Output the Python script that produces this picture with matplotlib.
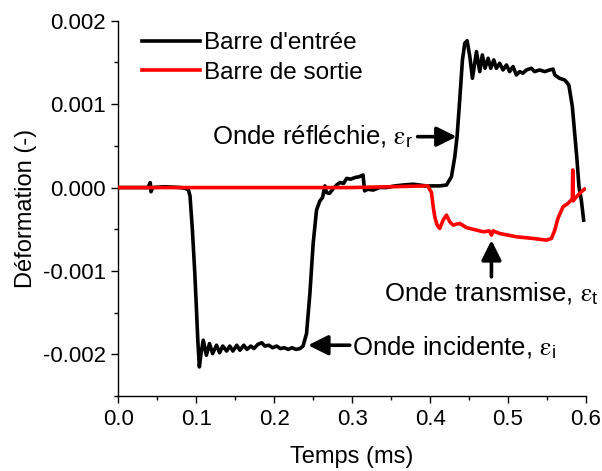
"""Split Hopkinson bar signals: input and output bar strain vs time."""

import matplotlib
matplotlib.use("Agg")
import matplotlib.pyplot as plt

plt.rcParams["font.family"] = ["Liberation Sans", "DejaVu Sans"]
plt.rcParams["mathtext.fontset"] = "stix"

# Barre d'entrée (black) - time in ms, strain
entree_t = [0.000, 0.038, 0.041, 0.042, 0.044, 0.060, 0.080, 0.086, 0.090, 0.092,
            0.095, 0.098, 0.100, 0.102, 0.104, 0.106, 0.109, 0.113, 0.117, 0.121,
            0.126, 0.130, 0.134, 0.139, 0.143, 0.147, 0.152, 0.156, 0.161, 0.165,
            0.170, 0.174, 0.179, 0.184, 0.188, 0.193, 0.198, 0.203, 0.208, 0.213,
            0.218, 0.223, 0.228, 0.233, 0.237, 0.2415, 0.2458, 0.250, 0.2543, 0.2586,
            0.262, 0.265, 0.267, 0.271, 0.275, 0.280, 0.2845, 0.289, 0.293, 0.298,
            0.3035, 0.309, 0.314, 0.316, 0.320, 0.327, 0.335, 0.344, 0.355, 0.365,
            0.378, 0.395, 0.412, 0.421, 0.4274, 0.4317, 0.4346, 0.438, 0.4415, 0.4445,
            0.4475, 0.451, 0.4543, 0.4595, 0.4637, 0.467, 0.4705, 0.4744, 0.4778, 0.4817,
            0.485, 0.4893, 0.4935, 0.498, 0.502, 0.5064, 0.5107, 0.515, 0.519, 0.5236,
            0.530, 0.534, 0.5406, 0.547, 0.5535, 0.5577, 0.560, 0.566, 0.5727, 0.578,
            0.5825, 0.5855, 0.5885, 0.591, 0.594, 0.597]
entree_eps = [0.0, 0.0, 0.00006, -0.00005, 0.0, 0.00001, 0.0, -0.00001, -0.00003, -0.0001,
              -0.0005, -0.0010, -0.0014, -0.00183, -0.00215, -0.0020, -0.00183, -0.00201, -0.00187, -0.00199,
              -0.00189, -0.00198, -0.00190, -0.00196, -0.00190, -0.00196, -0.00189, -0.00195, -0.00189, -0.00194,
              -0.00190, -0.00193, -0.00188, -0.00186, -0.00190, -0.00189, -0.00192, -0.00190, -0.00193, -0.00192,
              -0.00194, -0.00192, -0.00194, -0.00193, -0.00190, -0.00175, -0.00127, -0.00067, -0.00027, -0.00016,
              -0.00012, 0.00002, -0.00006, -0.00007, -0.00002, 0.00003, 0.00006, 0.00005, 0.00011, 0.00010,
              0.00012, 0.00013, 0.00015, -0.00004, -0.00002, -0.00003, 0.0, 0.0, 0.00002, 0.00003,
              0.00004, 0.00002, 0.00002, 0.00003, 0.00013, 0.00037, 0.00061, 0.00105, 0.00153, 0.00173,
              0.00176, 0.00157, 0.00131, 0.00163, 0.00139, 0.00159, 0.00143, 0.00155, 0.00143, 0.00153,
              0.00143, 0.00149, 0.00141, 0.00147, 0.00139, 0.00145, 0.00135, 0.00139, 0.00137, 0.00141,
              0.00143, 0.00139, 0.00141, 0.00139, 0.00141, 0.00142, 0.00135, 0.00131, 0.00129, 0.00123,
              0.00097, 0.00065, 0.00033, 0.00001, -0.00015, -0.00039]

# Barre de sortie (red)
sortie_t = [0.000, 0.100, 0.200, 0.300, 0.397, 0.4018, 0.404, 0.406, 0.409, 0.4124,
            0.4167, 0.421, 0.4253, 0.4295, 0.438, 0.4467, 0.4553, 0.468, 0.476, 0.4787,
            0.481, 0.489, 0.5107, 0.532, 0.5493, 0.5556, 0.560, 0.564, 0.5706, 0.5769,
            0.581, 0.5825, 0.583, 0.5835, 0.5878, 0.594, 0.598]
sortie_eps = [0.0, 0.0, 0.0, 0.0, 0.00002, -0.00006, -0.00023, -0.00035, -0.00045, -0.00049,
              -0.00039, -0.00033, -0.00041, -0.00045, -0.00043, -0.00048, -0.00050, -0.00053, -0.00052, -0.00057,
              -0.00052, -0.00055, -0.00059, -0.00061, -0.00063, -0.00061, -0.00051, -0.00037, -0.00023, -0.00019,
              -0.00015, -0.00014, 0.00021, -0.00016, -0.00011, -0.00005, -0.00002]

fig = plt.figure(figsize=(6.02, 4.71), dpi=100)
ax = fig.add_axes([0.1965, 0.159, 0.7769, 0.797])

ax.plot(entree_t, entree_eps, color="black", linewidth=2.6, label="Barre d'entrée", zorder=2)
ax.plot(sortie_t, sortie_eps, color="#ff0000", linewidth=2.6, label="Barre de sortie", zorder=3)

ax.set_xlim(0.0, 0.6)
ax.set_ylim(-0.0025, 0.002)
ax.set_xticks([0.0, 0.1, 0.2, 0.3, 0.4, 0.5, 0.6])
ax.set_xticks([0.05, 0.15, 0.25, 0.35, 0.45, 0.55], minor=True)
ax.set_yticks([-0.002, -0.001, 0.0, 0.001, 0.002])
ax.set_yticks([-0.0025, -0.0015, -0.0005, 0.0005, 0.0015], minor=True)
ax.set_xticklabels(["0.0", "0.1", "0.2", "0.3", "0.4", "0.5", "0.6"])
ax.set_yticklabels(["-0.002", "-0.001", "0.000", "0.001", "0.002"])
ax.tick_params(which="major", direction="out", length=5, width=1, labelsize=16, pad=4)
ax.tick_params(which="minor", direction="out", length=3, width=1)

for side in ("top", "right"):
    ax.spines[side].set_visible(False)
for side in ("left", "bottom"):
    ax.spines[side].set_linewidth(1.0)

ax.set_xlabel("Temps (ms)", fontsize=17, labelpad=12)
ax.set_ylabel("Déformation (-)", fontsize=17, labelpad=4)

ax.legend(loc="upper left", bbox_to_anchor=(0.03, 0.995), frameon=False, fontsize=17.5,
          handlelength=2.4, handletextpad=0.15, labelspacing=0.3, borderaxespad=0.0)

arrow = dict(arrowstyle="-|>,head_length=0.6,head_width=0.3", color="black",
             linewidth=2.6, mutation_scale=20, shrinkA=0, shrinkB=0)

# Onde réfléchie
ax.annotate("", xy=(0.434, 0.00061), xytext=(0.384, 0.00061), arrowprops=arrow)
ax.text(0.378, 0.00061, r"Onde réfléchie, $\mathrm{\varepsilon}_{\mathregular{r}}$", fontsize=18.5,
        ha="right", va="center")

# Onde incidente
ax.annotate("", xy=(0.2435, -0.00189), xytext=(0.297, -0.00189), arrowprops=arrow)
ax.text(0.300, -0.00192, r"Onde incidente, $\mathrm{\varepsilon}_{\mathregular{i}}$", fontsize=18.5,
        ha="left", va="center")

# Onde transmise
ax.annotate("", xy=(0.4787, -0.00063), xytext=(0.4787, -0.00107), arrowprops=arrow)
ax.text(0.4787, -0.00128, r"Onde transmise, $\mathrm{\varepsilon}_{\mathregular{t}}$", fontsize=18.5,
        ha="center", va="center", clip_on=False)

fig.savefig("out.png", dpi=100)
plt.close(fig)
